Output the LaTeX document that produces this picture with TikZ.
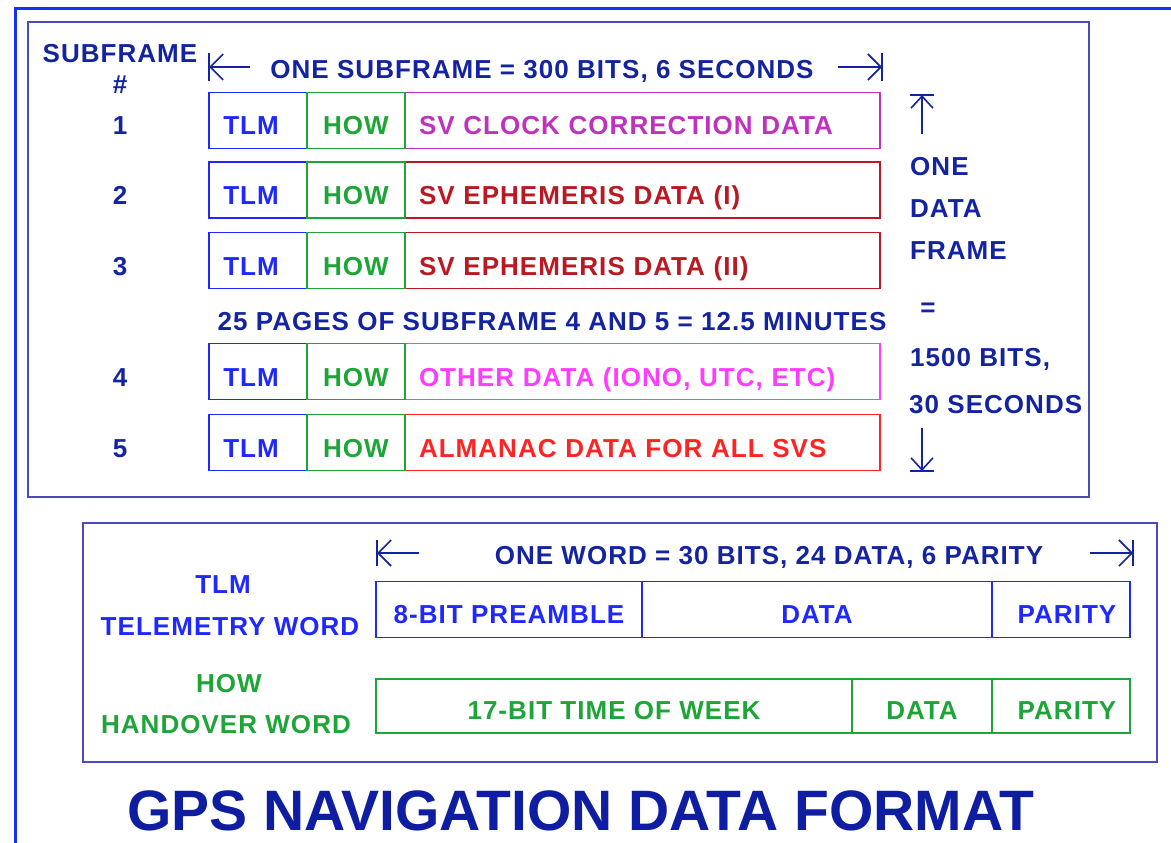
\documentclass[tikz,border=0pt]{standalone}
\usepackage{fontspec}
\setmainfont{Liberation Sans}
\newfontfamily\labelfont{Liberation Sans}[LetterSpace=4]
\usetikzlibrary{arrows.meta}

\definecolor{navy}{RGB}{20,35,160}
\definecolor{framecol}{RGB}{75,75,190}
\definecolor{bordercol}{RGB}{25,45,255}
\definecolor{tlmcol}{RGB}{30,40,255}
\definecolor{howcol}{RGB}{30,165,55}
\definecolor{cpurple}{RGB}{190,50,190}
\definecolor{cdred}{RGB}{185,25,35}
\definecolor{cmag}{RGB}{255,60,255}
\definecolor{cred}{RGB}{255,35,35}
\definecolor{titlecol}{RGB}{15,30,160}

\begin{document}
\begin{tikzpicture}[x=1pt,y=-1pt,
  txt/.style={font=\labelfont\fontsize{26}{30}\selectfont\bfseries, inner sep=0pt},
  lbl/.style={txt, text=navy, anchor=base},
  cell/.style={txt, draw=#1, text=#1, line width=1.5pt, minimum height=56pt,
               text height=29pt, text depth=0pt},
  wcell/.style={txt, draw=#1, text=#1, line width=1.5pt, minimum height=56pt,
               text height=27pt, text depth=0pt},
  dim/.style={draw=navy, line width=1.6pt},
  dimtip/.style={dim, -{Straight Barb[length=13pt,width=26pt]}},
  vdimtip/.style={dim, -{Straight Barb[length=12pt,width=22pt]}}
]
\useasboundingbox (0,0) rectangle (1171,843);

% outer page border
\draw[bordercol, line width=3pt] (1171,9) -- (15,9) -- (15,843);

% frame and word panels
\draw[framecol, line width=2pt] (28,22) rectangle (1089,497);
\draw[framecol, line width=2pt] (83,523) rectangle (1157,762);

% ---- subframe panel ----
\node[lbl] (sfhead) at (120,63) {SUBFRAME};
\node[lbl] (sfhash) at (120,93) {\#};

\coordinate (hl0) at (209,67);
\coordinate (hl1) at (250,67);
\coordinate (hr0) at (882,67);
\coordinate (hr1) at (838,67);
\draw[dimtip] (hl1) -- (hl0);
\draw[dim] ([yshift=14pt]hl0) -- ([yshift=-14pt]hl0);
\draw[dimtip] (hr1) -- (hr0);
\draw[dim] ([yshift=14pt]hr0) -- ([yshift=-14pt]hr0);
\node[lbl] (sfspan) at (542,78) {ONE SUBFRAME = 300 BITS, 6 SECONDS};

\foreach \i/\y/\c/\t in {
  1/120.5/cpurple/{SV CLOCK CORRECTION DATA},
  2/190/cdred/{SV EPHEMERIS DATA (I)},
  3/260.5/cdred/{SV EPHEMERIS DATA (II)},
  4/371.5/cmag/{OTHER DATA (IONO, UTC, ETC)},
  5/442.5/cred/{ALMANAC DATA FOR ALL SVS}}{
  \node[lbl] (num\i) at (120,\y+14.5) {\i};
  \node[cell=tlmcol, minimum width=98pt] (tlm\i) at (258,\y) {\hspace*{-14pt}TLM};
  \node[cell=\c, minimum width=475pt, text width=447pt, align=left,
        inner xsep=14pt] (dat\i) at (642.5,\y) {\t};
  \node[cell=howcol, minimum width=98pt] (how\i) at (356,\y) {HOW};
}

\node[lbl] (pages) at (552,330) {25 PAGES OF SUBFRAME 4 AND 5 = 12.5 MINUTES};

% frame length on the right
\coordinate (vu0) at (922,95);
\coordinate (vu1) at (922,134);
\coordinate (vd0) at (922,471);
\coordinate (vd1) at (922,428);
\draw[vdimtip] (vu1) -- (vu0);
\draw[dim] ([xshift=-12pt]vu0) -- ([xshift=12pt]vu0);
\draw[vdimtip] (vd1) -- (vd0);
\draw[dim] ([xshift=-12pt]vd0) -- ([xshift=12pt]vd0);
\node[lbl, anchor=base west] (fr1) at (910,175) {ONE};
\node[lbl, anchor=base west] (fr2) at (910,217) {DATA};
\node[lbl, anchor=base west] (fr3) at (910,259) {FRAME};
\node[lbl] (fr4) at (928,316) {=};
\node[lbl, anchor=base west] (fr5) at (910,366) {1500 BITS,};
\node[lbl, anchor=base west] (fr6) at (909,413) {30 SECONDS};

% ---- word panel ----
\coordinate (wl0) at (377,553);
\coordinate (wl1) at (419,553);
\coordinate (wr0) at (1133,553);
\coordinate (wr1) at (1090,553);
\draw[dimtip] (wl1) -- (wl0);
\draw[dim] ([yshift=13pt]wl0) -- ([yshift=-13pt]wl0);
\draw[dimtip] (wr1) -- (wr0);
\draw[dim] ([yshift=13pt]wr0) -- ([yshift=-13pt]wr0);
\node[lbl] (wspan) at (769,564) {ONE WORD = 30 BITS, 24 DATA, 6 PARITY};

\node[lbl, text=tlmcol] (tlmlbl) at (223,593) {TLM};
\node[lbl, text=tlmcol] (tlmname) at (230,635) {TELEMETRY WORD};
\node[lbl, text=howcol] (howlbl) at (229,692) {HOW};
\node[lbl, text=howcol] (howname) at (226,733) {HANDOVER WORD};

\node[wcell=tlmcol, minimum width=266pt] (tpre) at (509,609.5) {8-BIT PREAMBLE};
\node[wcell=tlmcol, minimum width=350pt] (tdat) at (817,609.5) {DATA};
\node[wcell=tlmcol, minimum width=138pt] (tpar) at (1061,609.5) {\hspace*{12pt}PARITY};

\node[wcell=howcol, minimum width=476pt, minimum height=54pt] (htow) at (614,706) {17-BIT TIME OF WEEK};
\node[wcell=howcol, minimum width=140pt, minimum height=54pt] (hdat) at (922,706) {DATA};
\node[wcell=howcol, minimum width=138pt, minimum height=54pt] (hpar) at (1061,706) {\hspace*{12pt}PARITY};

% title
\node[anchor=base, inner sep=0pt, text=titlecol,
      font=\fontsize{57}{60}\selectfont\bfseries] (title) at (580.5,830)
      {GPS NAVIGATION DATA FORMAT};
\end{tikzpicture}
\end{document}
